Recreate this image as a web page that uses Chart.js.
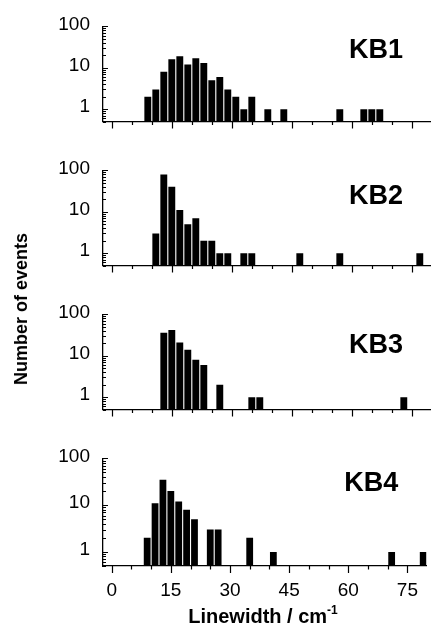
<!DOCTYPE html>
<html>
<head>
<meta charset="utf-8">
<script src="https://cdn.jsdelivr.net/npm/chart.js@4.4.1/dist/chart.umd.min.js"></script>
<style>
  body { margin: 0; background: #fff; }
  #wrap { position: relative; width: 431px; height: 634px; overflow: hidden;
          font-family: "Liberation Sans", Arial, Helvetica, sans-serif; color: #000; }
  canvas.panel { position: absolute; left: 0; }
  #ytitle { position: absolute; left: 21px; top: 309px; white-space: nowrap;
            font-weight: bold; font-size: 18px; line-height: 18px;
            transform: translate(-50%, -50%) rotate(-90deg); }
  #xtitle { position: absolute; left: 263px; top: 606px; white-space: nowrap;
            font-weight: bold; font-size: 20px; line-height: 20px;
            transform: translateX(-50%); }
  #xtitle sup { font-size: 12px; line-height: 0; vertical-align: 9px; }
</style>
</head>
<body>
<div id="wrap">
  <canvas id="kb1" class="panel" width="431" height="144" style="top:2px"></canvas>
  <canvas id="kb2" class="panel" width="431" height="144" style="top:146px"></canvas>
  <canvas id="kb3" class="panel" width="431" height="144" style="top:290px"></canvas>
  <canvas id="kb4" class="panel" width="431" height="172" style="top:434px"></canvas>
  <div id="ytitle">Number of events</div>
  <div id="xtitle">Linewidth / cm<sup>-1</sup></div>
</div>
<script>
// histogram bins (left edge, cm-1, bin width 2) and counts per sample
const binWidth = 2;

const kb1Bins = [8, 10, 12, 14, 16, 18, 20, 22, 24, 26, 28, 30, 32, 34, 38, 42, 56, 62, 64, 66];
const kb1Counts = [2, 3, 8, 16, 19, 12, 17, 13, 5, 6, 3, 2, 1, 2, 1, 1, 1, 1, 1, 1];

const kb2Bins = [10, 12, 14, 16, 18, 20, 22, 24, 26, 28, 32, 34, 46, 56, 76];
const kb2Counts = [3, 80, 40, 11, 5, 7, 2, 2, 1, 1, 1, 1, 1, 1, 1];

const kb3Bins = [12, 14, 16, 18, 20, 22, 26, 34, 36, 72];
const kb3Counts = [36, 42, 21, 14, 8, 6, 2, 1, 1, 1];

const kb4Bins = [8, 10, 12, 14, 16, 18, 20, 24, 26, 34, 40, 70, 78];
const kb4Counts = [2, 11, 35, 20, 12, 8, 5, 3, 3, 2, 1, 1, 1];

const xTickValues = [0, 5, 10, 15, 20, 25, 30, 35, 40, 45, 50, 55, 60, 65, 70, 75];
const xLabelValues = [0, 15, 30, 45, 60, 75];
const yLabelValues = [1, 10, 100];

const panels = [
  { id: 'kb1', name: 'KB1', bins: kb1Bins, counts: kb1Counts, nameDy: 32 },
  { id: 'kb2', name: 'KB2', bins: kb2Bins, counts: kb2Counts, nameDy: 34 },
  { id: 'kb3', name: 'KB3', bins: kb3Bins, counts: kb3Counts, nameDy: 39 },
  { id: 'kb4', name: 'KB4', bins: kb4Bins, counts: kb4Counts, nameDy: 33 }
];

const PAD_TOP = 15;
const PLOT_H = 117;

// minor/major tick marks (x outward, y inward) + panel name
const tickMarks = {
  id: 'tickMarks',
  afterDraw(chart, args, opts) {
    const ctx = chart.ctx;
    const xs = chart.scales.x;
    const ys = chart.scales.y;
    const area = chart.chartArea;
    ctx.save();
    ctx.strokeStyle = '#000';
    ctx.lineWidth = 1.2;
    ctx.beginPath();
    xTickValues.forEach((v) => {
      const px = Math.round(xs.getPixelForValue(v)) + 0.5;
      const len = v % 15 === 0 ? 7 : 3.5;
      ctx.moveTo(px, area.bottom);
      ctx.lineTo(px, area.bottom + len);
    });
    for (let dec = 0.1; dec <= 100; dec *= 10) {
      for (let m = 1; m <= 9; m++) {
        const v = m * dec;
        if (v < 0.5 || v > 100.001) continue;
        const py = Math.round(ys.getPixelForValue(v)) + 0.5;
        const len = m === 1 ? 5 : 3;
        ctx.moveTo(area.left, py);
        ctx.lineTo(area.left + len, py);
      }
    }
    ctx.stroke();

    ctx.fillStyle = '#000';
    ctx.font = 'bold 27px "Liberation Sans", Arial, sans-serif';
    ctx.textAlign = 'right';
    ctx.textBaseline = 'alphabetic';
    ctx.fillText(opts.name, area.right - 28, area.top + opts.nameDy);
    ctx.restore();
  }
};

panels.forEach((p, i) => {
  const canvas = document.getElementById(p.id);
  const last = i === panels.length - 1;
  const xAxisH = canvas.height - PAD_TOP - PLOT_H;

  new Chart(canvas.getContext('2d'), {
    type: 'bar',
    data: {
      datasets: [{
        data: p.bins.map((b, k) => ({ x: b + binWidth / 2, y: p.counts[k] })),
        backgroundColor: '#000',
        borderWidth: 0,
        barPercentage: 0.86,
        categoryPercentage: 1
      }]
    },
    options: {
      responsive: false,
      animation: false,
      events: [],
      layout: { padding: { top: PAD_TOP, left: 0, right: 0, bottom: 0 } },
      plugins: {
        legend: { display: false },
        tooltip: { enabled: false },
        tickMarks: { name: p.name, nameDy: p.nameDy }
      },
      scales: {
        x: {
          type: 'linear',
          min: -2.2,
          max: 79.8,
          offset: false,
          grid: { display: false, drawTicks: false },
          border: { display: true, color: '#000', width: 1.3 },
          afterBuildTicks: (s) => { s.ticks = xLabelValues.map((v) => ({ value: v })); },
          afterFit: (s) => { s.height = xAxisH; },
          ticks: {
            display: last,
            padding: 13,
            color: '#000',
            maxRotation: 0,
            font: { family: '"Liberation Sans", Arial, sans-serif', size: 19 }
          }
        },
        y: {
          type: 'logarithmic',
          min: 0.5,
          max: 100,
          grid: { display: false, drawTicks: false },
          border: { display: true, color: '#000', width: 1.3 },
          afterBuildTicks: (s) => { s.ticks = yLabelValues.map((v) => ({ value: v })); },
          afterFit: (s) => { s.width = 103; },
          ticks: {
            padding: 13,
            color: '#000',
            labelOffset: -2,
            callback: (v) => String(v),
            font: { family: '"Liberation Sans", Arial, sans-serif', size: 19 }
          }
        }
      }
    },
    plugins: [tickMarks]
  });
});
</script>
</body>
</html>
